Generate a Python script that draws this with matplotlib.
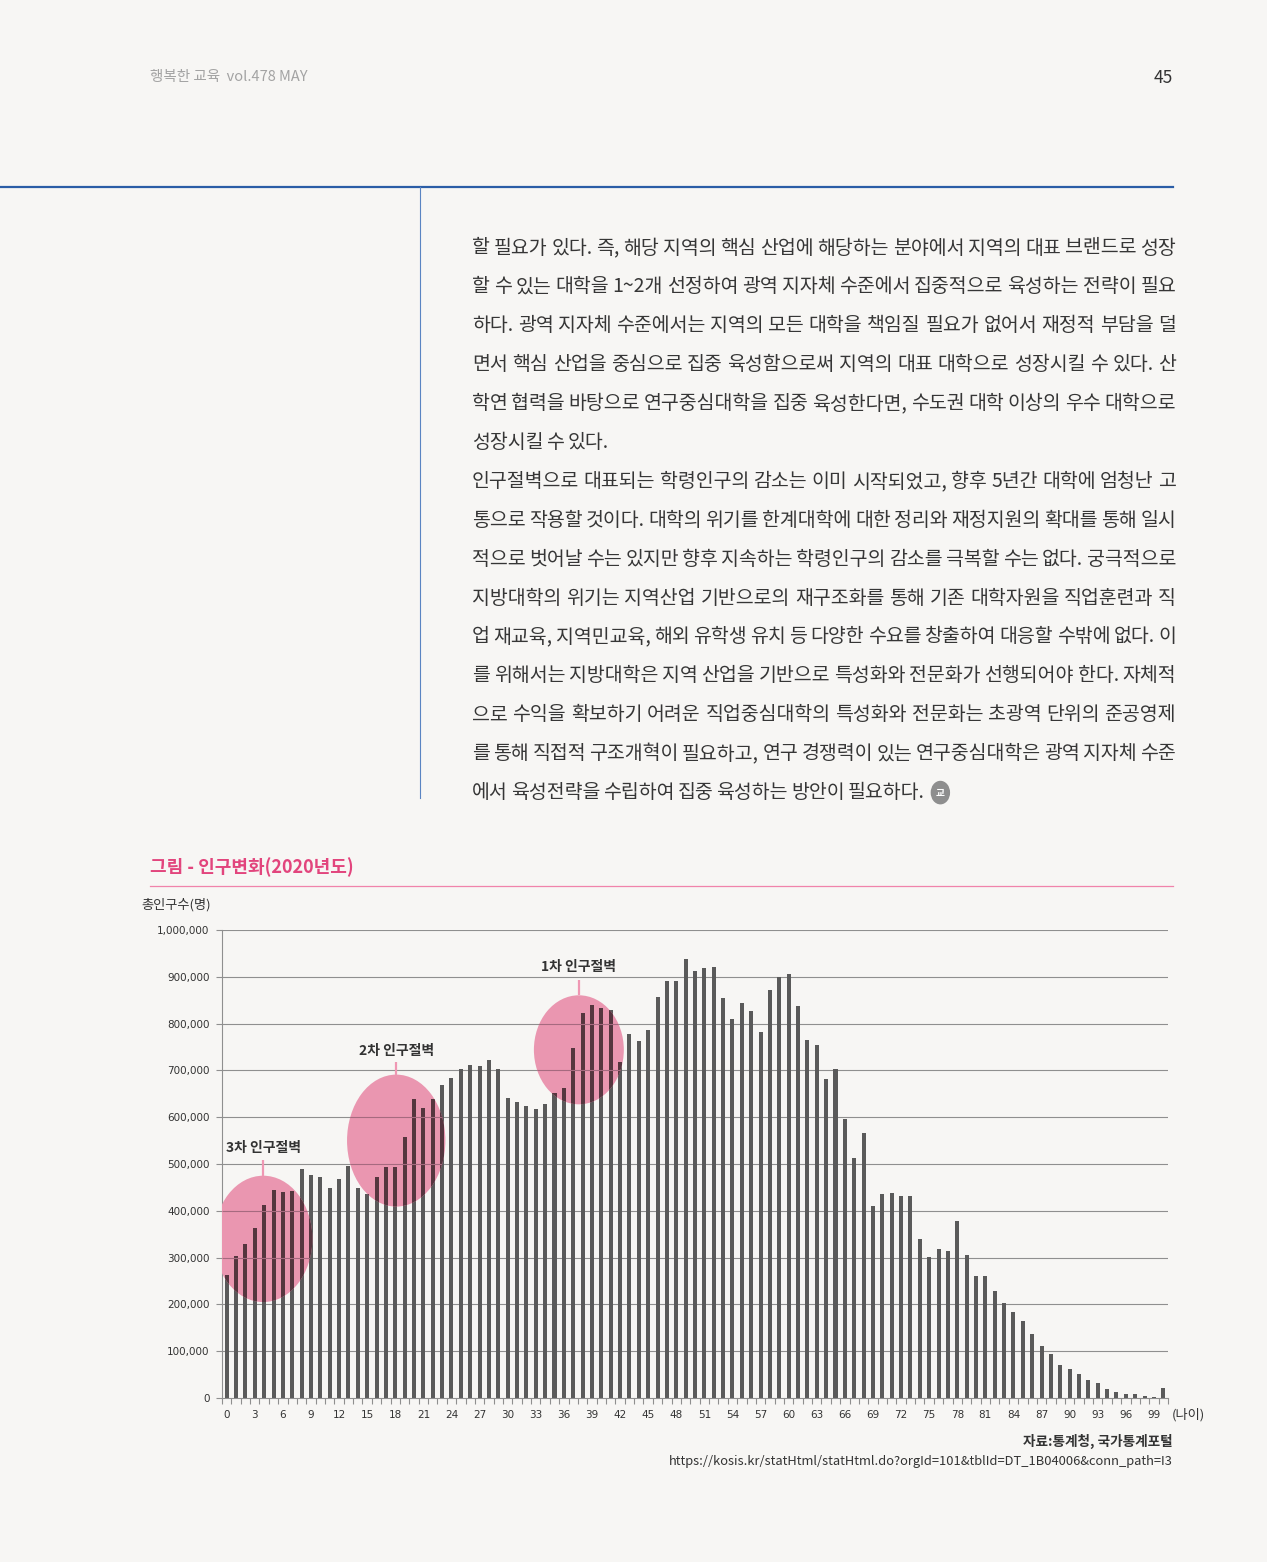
import matplotlib
matplotlib.use('Agg')
import matplotlib.pyplot as plt
from matplotlib.patches import Ellipse, Circle
from matplotlib.lines import Line2D
import numpy as np

KR = ['Noto Sans CJK KR', 'DejaVu Sans']
plt.rcParams['font.family'] = KR

# ---------------- data ----------------
ages = list(range(101))
population = [
    263000, 303000, 329000, 363000, 412000, 444000, 440000, 442000, 489000, 476000,
    472000, 448000, 468000, 495000, 448000, 436000, 472000, 493000, 493000, 557000,
    638000, 619000, 638000, 668000, 683000, 704000, 711000, 709000, 723000, 702000,
    640000, 632000, 625000, 617000, 628000, 651000, 662000, 747000, 822000, 839000,
    834000, 828000, 719000, 777000, 762000, 787000, 856000, 892000, 892000, 939000,
    913000, 918000, 920000, 854000, 809000, 843000, 826000, 783000, 871000, 900000,
    907000, 837000, 764000, 755000, 681000, 704000, 596000, 512000, 566000, 410000,
    436000, 438000, 431000, 431000, 340000, 301000, 318000, 314000, 378000, 306000,
    261000, 261000, 229000, 203000, 184000, 165000, 137000, 112000, 95000, 71000,
    63000, 52000, 39000, 31000, 20000, 13000, 9000, 9000, 5000, 3000,
    22000,
]
xtick_ages = list(range(0, 100, 3))
ytick_values = list(range(0, 1000001, 100000))

# annotation (label, centre age, centre value, width in ages, height in persons,
#             label value, connector top value)
cliff_labels = ['3차 인구절벽', '2차 인구절벽', '1차 인구절벽']
cliff_center_age = [3.9, 18.1, 37.6]
cliff_center_val = [340000, 550000, 744000]
cliff_width_age = [10.5, 10.5, 9.6]
cliff_height_val = [270000, 282000, 233000]
cliff_label_val = [535000, 742000, 921000]
cliff_line_top = [509000, 719000, 894000]

header_text = '행복한 교육  vol.478 MAY'
page_number = '45'
chart_title = '그림 - 인구변화(2020년도)'
y_label = '총인구수(명)'
x_unit = '(나이)'
source_line1 = '자료:통계청, 국가통계포털'
source_line2 = 'https://kosis.kr/statHtml/statHtml.do?orgId=101&tblId=DT_1B04006&conn_path=I3'

paragraphs = [
    ['할 필요가 있다. 즉, 해당 지역의 핵심 산업에 해당하는 분야에서 지역의 대표 브랜드로 성장',
     '할 수 있는 대학을 1~2개 선정하여 광역 지자체 수준에서 집중적으로 육성하는 전략이 필요',
     '하다. 광역 지자체 수준에서는 지역의 모든 대학을 책임질 필요가 없어서 재정적 부담을 덜',
     '면서 핵심 산업을 중심으로 집중 육성함으로써 지역의 대표 대학으로 성장시킬 수 있다. 산',
     '학연 협력을 바탕으로 연구중심대학을 집중 육성한다면, 수도권 대학 이상의 우수 대학으로',
     '성장시킬 수 있다.'],
    ['인구절벽으로 대표되는 학령인구의 감소는 이미 시작되었고, 향후 5년간 대학에 엄청난 고',
     '통으로 작용할 것이다. 대학의 위기를 한계대학에 대한 정리와 재정지원의 확대를 통해 일시',
     '적으로 벗어날 수는 있지만 향후 지속하는 학령인구의 감소를 극복할 수는 없다. 궁극적으로',
     '지방대학의 위기는 지역산업 기반으로의 재구조화를 통해 기존 대학자원을 직업훈련과 직',
     '업 재교육, 지역민교육, 해외 유학생 유치 등 다양한 수요를 창출하여 대응할 수밖에 없다. 이',
     '를 위해서는 지방대학은 지역 산업을 기반으로 특성화와 전문화가 선행되어야 한다. 자체적',
     '으로 수익을 확보하기 어려운 직업중심대학의 특성화와 전문화는 초광역 단위의 준공영제',
     '를 통해 직접적 구조개혁이 필요하고, 연구 경쟁력이 있는 연구중심대학은 광역 지자체 수준',
     '에서 육성전략을 수립하여 집중 육성하는 방안이 필요하다.'],
]

# ---------------- figure ----------------
W, H = 1267, 1562
BG = '#f7f6f4'
fig = plt.figure(figsize=(W / 100, H / 100), dpi=100, facecolor=BG)


def fx(x):
    return x / W


def fy(y):
    return 1 - y / H


def ftext(x, y, s, **kw):
    return fig.text(fx(x), fy(y), s, transform=fig.transFigure, **kw)


def fline(x0, x1, y0, y1, **kw):
    fig.add_artist(Line2D([fx(x0), fx(x1)], [fy(y0), fy(y1)],
                          transform=fig.transFigure, **kw))


# header
ftext(150, 77, header_text, fontsize=10.5, color='#a3a3a3', va='center', ha='left')
ftext(1173, 78, page_number, fontsize=12.5, color='#333333', va='center', ha='right')
fline(0, 1173, 187, 187, color='#2b5da6', lw=1.6)
fline(420, 420, 187, 798, color='#5a84c2', lw=0.8)

# body text (justified)
renderer = fig.canvas.get_renderer()
TXT_L, TXT_R = 472, 1176
line_y = 248
LINE_STEP = 38.9
BODY_FS = 14.0
NORMAL_GAP = 3.0
last_end, last_y = TXT_L, line_y
for para in paragraphs:
    for i, line in enumerate(para):
        is_last = (i == len(para) - 1)
        words = line.split(' ')
        arts = [ftext(TXT_L, line_y, w, fontsize=BODY_FS, color='#363636',
                      va='center', ha='left') for w in words]
        widths = [a.get_window_extent(renderer).width for a in arts]
        if is_last or len(words) == 1:
            gap = NORMAL_GAP
        else:
            gap = (TXT_R - TXT_L - sum(widths)) / (len(words) - 1)
        x = TXT_L
        for a, w in zip(arts, widths):
            a.set_position((fx(x), fy(line_y)))
            x += w + gap
        last_end = x - gap
        last_y = line_y
        line_y += LINE_STEP

# end icon
fig.add_artist(Circle((fx(last_end + 16), fy(last_y)), radius=9 / W,
                      transform=fig.transFigure, color='#8e8e8e'))
ftext(last_end + 16, last_y, '교', fontsize=7, color='white', ha='center',
      va='center', fontweight='bold')

# chart title
ftext(150, 867, chart_title, fontsize=13, color='#e2457d', va='center',
      ha='left', fontweight='bold')
fline(150, 1173, 886, 886, color='#f083ab', lw=0.9)
ftext(141, 905, y_label, fontsize=9.5, color='#333333', va='center', ha='left')

# ---------------- chart ----------------
ax = fig.add_axes([fx(222), fy(1398), fx(1168) - fx(222), (1398 - 930) / H])
ax.set_facecolor('none')
GRID = '#8f8f8f'
BAR = '#5a5a5a'
BARW = 0.43

ax.set_xlim(-0.5, 100.5)
ax.set_ylim(0, 1000000)
ax.set_yticks(ytick_values)
ax.set_yticklabels(['{:,}'.format(v) for v in ytick_values],
                   fontfamily='DejaVu Sans', fontsize=7.5, color='#333333')
for v in ytick_values[1:]:
    ax.axhline(v, color=GRID, lw=0.8, zorder=1)
ax.set_xticks(xtick_ages)
ax.set_xticklabels([str(a) for a in xtick_ages], fontfamily='DejaVu Sans',
                   fontsize=7.5, color='#333333')
ax.set_xticks(np.arange(-0.5, 101, 1), minor=True)
ax.tick_params(axis='x', which='major', length=0, pad=9)
ax.tick_params(axis='x', which='minor', length=4, color=GRID, width=0.8)
ax.tick_params(axis='y', length=4, color=GRID, width=0.8, pad=5)
for s in ('top', 'right'):
    ax.spines[s].set_visible(False)
for s in ('left', 'bottom'):
    ax.spines[s].set_color(GRID)
    ax.spines[s].set_linewidth(0.8)

ax.bar(ages, population, width=BARW, color=BAR, zorder=2)

for lab, cx, cy, ew, eh, ly, lt in zip(cliff_labels, cliff_center_age, cliff_center_val,
                                       cliff_width_age, cliff_height_val,
                                       cliff_label_val, cliff_line_top):
    ell = Ellipse((cx, cy), ew, eh, facecolor='#ea96b0', edgecolor='none', zorder=3)
    ax.add_patch(ell)
    inner = ax.bar(ages, population, width=BARW, color='#56363f', zorder=4)
    for r in inner:
        r.set_clip_path(ell)
    hl = ax.hlines(ytick_values[1:], -0.5, 100.5, color='#a66a7f', lw=0.8, zorder=4)
    hl.set_clip_path(ell)
    bottom_of_line = cy + eh / 2
    ax.plot([cx, cx], [bottom_of_line, lt], color='#ef97b3', lw=1.6, zorder=3,
            solid_capstyle='butt')
    ax.text(cx, ly, lab, ha='center', va='center', fontsize=10, fontweight='bold',
            color='#333333', zorder=5)

ftext(1172, 1415, x_unit, fontsize=9.5, color='#333333', va='center', ha='left')
ftext(1173, 1441, source_line1, fontsize=9.8, color='#333333', va='center',
      ha='right', fontweight='bold')
ftext(1173, 1462, source_line2, fontsize=9.3, color='#333333', va='center', ha='right')

fig.savefig('out.png', dpi=100, facecolor=BG)
